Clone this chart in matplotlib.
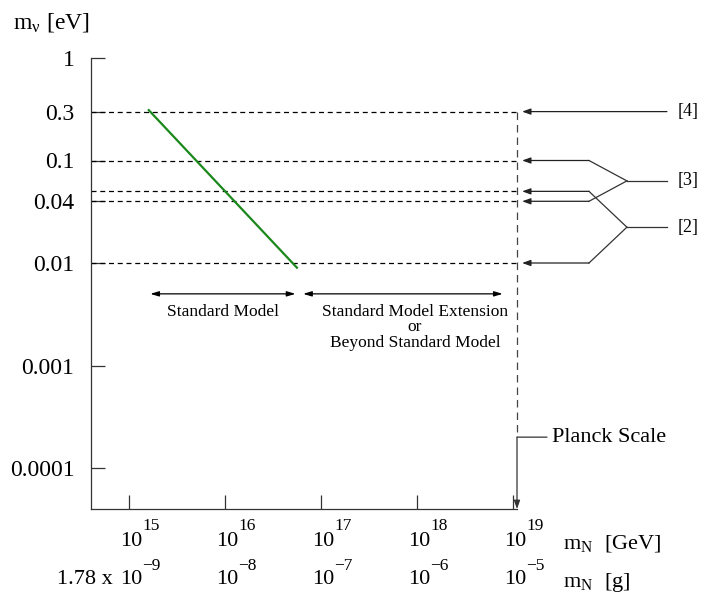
import matplotlib.pyplot as plt
import matplotlib.transforms as mtransforms
import numpy as np

plt.rcParams['font.family'] = ['Liberation Serif', 'DejaVu Serif']
plt.rcParams['mathtext.fontset'] = 'stix'

# neutrino mass levels [eV] and the reference that quotes them
m_nu = [0.3, 0.1, 0.05, 0.04, 0.01]
refs = {'[4]': [0.3], '[3]': [0.1, 0.04], '[2]': [0.05, 0.01]}

# y axis
y_ticks = [1, 0.3, 0.1, 0.04, 0.01, 0.001, 0.0001]
y_labels = ['1', '0.3', '0.1', '0.04', '0.01', '0.001', '0.0001']

# x axis: m_N in GeV and in grams (x 1.78)
gev_exp = [15, 16, 17, 18, 19]
g_exp = ['\u22129', '\u22128', '\u22127', '\u22126', '\u22125']

# see-saw line (standard model)
sm_x = [1.6e15, 5.6e16]
sm_y = [0.31, 0.009]

# regions
sm_range = [1.66e15, 5.4e16]
bsm_range = [6.5e16, 7.8e18]
range_y = 0.005

planck_x = 1.1e19
planck_y = 2e-4

fig = plt.figure(figsize=(7.02, 5.98), dpi=100)
ax = fig.add_axes([91/702, 1 - 509/598, 426/702, 451/598])
ax.set_xscale('log')
ax.set_yscale('log')
ax.set_xlim(4e14, planck_x)
ax.set_ylim(10**-4.4, 1)

for s in ['top', 'right']:
    ax.spines[s].set_visible(False)
for s in ['left', 'bottom']:
    ax.spines[s].set_linewidth(0.9)
    ax.spines[s].set_color('#333333')

ax.set_yticks(y_ticks)
ax.set_yticklabels(y_labels)
ax.yaxis.set_minor_locator(plt.NullLocator())
ax.set_xticks([10.0**e for e in gev_exp])
ax.set_xticklabels([])
ax.xaxis.set_minor_locator(plt.NullLocator())
ax.tick_params(axis='both', direction='in', length=10, width=0.9, color='#333333')
ax.tick_params(axis='y', labelsize=17, pad=12)

# dashed levels
ax.hlines(m_nu, 4e14, planck_x, colors='k', linewidth=0.9, linestyles=(0, (4, 3)))

# green line
ax.plot(sm_x, sm_y, color='#1a881a', linewidth=1.6)

# planck scale vertical
ax.plot([planck_x, planck_x], [max(m_nu), planck_y], color='#444444',
        linewidth=0.9, linestyle=(0, (6, 4)), clip_on=False)
ax.annotate('', xy=(planck_x, 10**-4.4), xytext=(planck_x, planck_y),
            arrowprops=dict(arrowstyle='-|>,head_length=0.5,head_width=0.18',
                            color='#333333', lw=0.9, shrinkA=0, shrinkB=0),
            annotation_clip=False)
ax.annotate('', xy=(planck_x, planck_y), xycoords='data',
            xytext=(30, 0), textcoords='offset pixels',
            arrowprops=dict(arrowstyle='-', color='#333333', lw=0.9,
                            shrinkA=0, shrinkB=0), annotation_clip=False)
ax.annotate('Planck Scale', xy=(planck_x, planck_y), xytext=(35, 0),
            textcoords='offset pixels', va='center', ha='left', fontsize=16,
            annotation_clip=False)

# range arrows
arr = dict(arrowstyle='<|-|>,head_length=0.5,head_width=0.15', color='k',
           lw=0.9, shrinkA=0, shrinkB=0)
for rng in [sm_range, bsm_range]:
    ax.annotate('', xy=(rng[0], range_y), xytext=(rng[1], range_y), arrowprops=arr)
ax.annotate('Standard Model', xy=(np.sqrt(sm_range[0]*sm_range[1]), range_y),
            xytext=(0, -10), textcoords='offset pixels', ha='center', va='top',
            fontsize=12.5)
ax.annotate('Standard Model Extension\nor\nBeyond Standard Model',
            xy=(np.sqrt(bsm_range[0]*bsm_range[1]), range_y),
            xytext=(12, -10), textcoords='offset pixels', ha='center', va='top',
            multialignment='center', linespacing=0.95, fontsize=12.5)

# reference connectors on the right
trans = mtransforms.blended_transform_factory(ax.transAxes, ax.transData)
head = dict(arrowstyle='-|>,head_length=0.5,head_width=0.18', color='#222222',
            lw=0.9, shrinkA=0, shrinkB=0)
for lab, levels in refs.items():
    yj = np.exp(np.mean(np.log(levels)))
    if len(levels) == 1:
        ax.annotate('', xy=(1.012, yj), xytext=(1.352, yj), xycoords=trans,
                    arrowprops=head, annotation_clip=False)
    else:
        for y in levels:
            ax.annotate('', xy=(1.012, y), xytext=(1.169, y), xycoords=trans,
                        arrowprops=head, annotation_clip=False)
            ax.plot([1.169, 1.258], [y, yj], transform=trans, color='#333333',
                    linewidth=0.9, clip_on=False)
        ax.plot([1.258, 1.352], [yj, yj], transform=trans, color='#333333',
                linewidth=0.9, clip_on=False)
    ax.text(1.376, yj, lab, transform=trans, va='center', ha='left', fontsize=13)

# x tick labels drawn by hand (two rows with raised exponents)
xc = ('data', 'axes fraction')
for e, ge in zip(gev_exp, g_exp):
    x = 10.0**e
    ax.annotate('10', xy=(x, 0), xycoords=xc, xytext=(2.5, -33),
                textcoords='offset pixels', ha='center', va='center', fontsize=16)
    ax.annotate(str(e), xy=(x, 0), xycoords=xc, xytext=(13, -17),
                textcoords='offset pixels', ha='left', va='center', fontsize=12.5)
    ax.annotate('10', xy=(x, 0), xycoords=xc, xytext=(2.5, -71),
                textcoords='offset pixels', ha='center', va='center', fontsize=16)
    ax.annotate(ge, xy=(x, 0), xycoords=xc, xytext=(13, -57),
                textcoords='offset pixels', ha='left', va='center', fontsize=12.5)

ax.annotate('1.78 x', xy=(10.0**gev_exp[0], 0), xycoords=xc, xytext=(-16, -71),
            textcoords='offset pixels', ha='right', va='center', fontsize=16)
ax.annotate(r'm$_\mathregular{N}$  [GeV]', xy=(10.0**gev_exp[-1], 0), xycoords=xc,
            xytext=(50, -35), textcoords='offset pixels', ha='left', va='center',
            fontsize=16)
ax.annotate(r'm$_\mathregular{N}$  [g]', xy=(10.0**gev_exp[-1], 0), xycoords=xc,
            xytext=(50, -73), textcoords='offset pixels', ha='left', va='center',
            fontsize=16)

fig.text(13/702, 1 - 22/598, 'm$_\\mathregular{\u03bd}$ [eV]', ha='left',
         va='center', fontsize=17)

fig.savefig('out.png', dpi=100)
